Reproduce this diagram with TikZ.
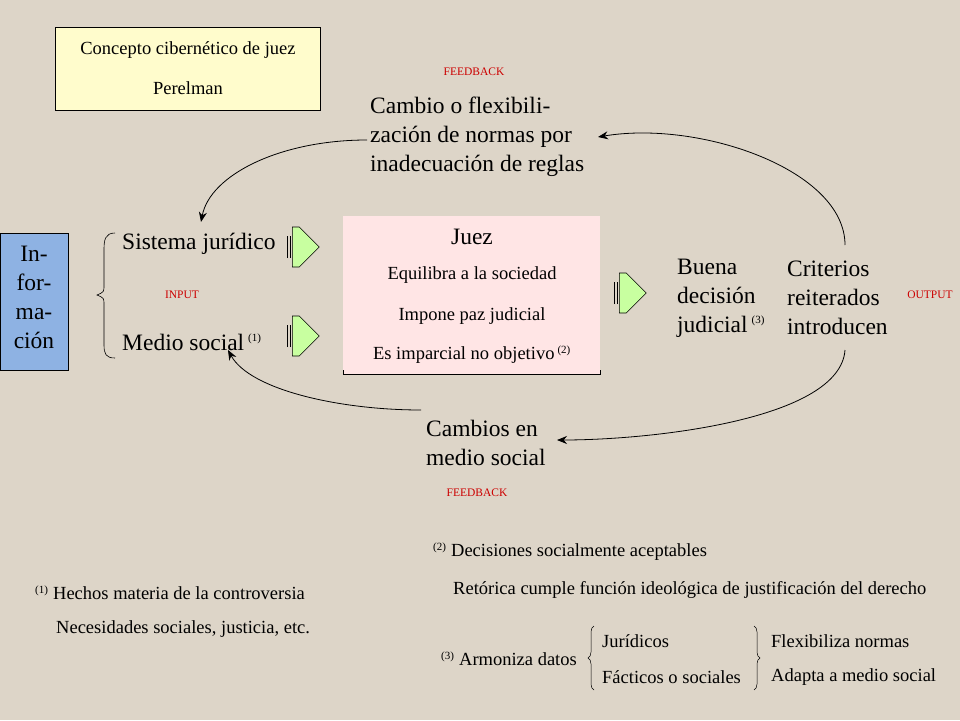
\documentclass[tikz,border=0pt]{standalone}
\usepackage{fontspec}
\setmainfont{Liberation Serif}
\usetikzlibrary{shapes.arrows,decorations.pathreplacing,arrows.meta}
\definecolor{bg}{HTML}{DDD5C8}
\definecolor{ag}{HTML}{C8FFA0}
\tikzset{
 big/.style={font=\fontsize{23.5}{29}\selectfont,align=left,inner sep=0pt},
 mid/.style={font=\fontsize{18.5}{22}\selectfont,inner sep=0pt},
 tiny/.style={font=\fontsize{11.5}{13}\selectfont,text=red!80!black,inner sep=0pt},
 garrow/.style={single arrow,draw=black,fill=ag,minimum height=27pt,minimum width=40pt,single arrow head extend=0pt,single arrow head indent=0pt,inner sep=0pt,line width=0.6pt,shape border rotate=0},
 curv/.style={-{Stealth[length=10pt,width=8pt]},line width=0.8pt},
}
\newcommand{\garr}[2]{%
 \node[garrow,anchor=west] (#1) at #2 {};
 \draw[line width=1pt] ([xshift=-5pt,yshift=-11pt]#1.west) -- ([xshift=-5pt,yshift=11pt]#1.west);
 \draw[line width=1pt] ([xshift=-2pt,yshift=-11pt]#1.west) -- ([xshift=-2pt,yshift=11pt]#1.west);}
\begin{document}
\begin{tikzpicture}[x=1pt,y=-1pt]
\fill[bg] (0,0) rectangle (960,720);
\useasboundingbox (0,0) rectangle (960,720);
\node[draw,fill=yellow!20,minimum width=265pt,minimum height=83pt,anchor=north west,inner sep=0pt] (tit) at (55,27) {};
\node[mid] (t1) at (188,50) {Concepto cibernético de juez};
\node[mid] (t2) at (188,88) {Perelman};
\node[tiny] (fb1) at (474,72) {FEEDBACK};
\node[big,anchor=west] (cambio) at (370,137) {Cambio o flexibili-\\zación de normas por\\inadecuación de reglas};
\node[draw,fill=cyan!55!blue!45,minimum width=68pt,minimum height=137pt,anchor=north west,inner sep=0pt] (info) at (0,233) {};
\node[big,align=center] (infot) at (34,297) {In-\\for-\\ma-\\ción};
\node[big,anchor=west] (sis) at (122,244) {Sistema jurídico};
\node[big,anchor=west] (med) at (122,342) {Medio social\,\textsuperscript{\fontsize{11}{11}\selectfont(1)}};
\node[tiny] (inp) at (182,295) {INPUT};
\draw[line width=0.6pt] (115,233) .. controls (105,233) and (104,240) .. (104,250) -- (104,285) .. controls (104,292) .. (97,295) .. controls (104,298) .. (104,305) -- (104,345) .. controls (104,354) and (106,358) .. (115,358);
\garr{a1}{(292,247)}
\garr{a2}{(292,336)}
\node[fill=red!10,minimum width=257pt,minimum height=158pt,anchor=north west,inner sep=0pt] (juez) at (343,216) {};
\draw[line width=0.6pt] (juez.south west)++(0,-4) -- (juez.south west) -- (juez.south east) -- ++(0,-4);
\node[big] (j1) at (472,237) {Juez};
\node[mid] (j2) at (472,275) {Equilibra a la sociedad};
\node[mid] (j3) at (472,316) {Impone paz judicial};
\node[mid] (j4) at (472,355) {Es imparcial no objetivo\,\textsuperscript{\fontsize{11}{11}\selectfont(2)}};
\garr{a3}{(619,293)}
\node[big,anchor=west] (buena) at (677,298) {Buena\\decisión\\judicial\,\textsuperscript{\fontsize{11}{11}\selectfont(3)}};
\node[big,anchor=west] (crit) at (787,298) {Criterios\\reiterados\\introducen};
\node[tiny] (out) at (930,295) {OUTPUT};
\node[big,anchor=west] (camb2) at (426,443) {Cambios en\\medio social};
\node[tiny] (fb2) at (477,493) {FEEDBACK};
\draw[curv] (367,140) .. controls (280,140) and (210,175) .. (201,222);
\draw[curv] (845,245) .. controls (845,170) and (700,120) .. (598,137);
\draw[curv] (845,350) .. controls (840,420) and (650,440) .. (557,440);
\draw[curv] (421,410) .. controls (340,410) and (250,390) .. (228,350);
\node[mid,anchor=west] (n2a) at (433,552) {\textsuperscript{\fontsize{11}{11}\selectfont(2)} Decisiones socialmente aceptables};
\node[mid,anchor=west] (n2b) at (453,590) {Retórica cumple función ideológica de justificación del derecho};
\node[mid,anchor=west] (n1a) at (35,593) {\textsuperscript{\fontsize{11}{11}\selectfont(1)} Hechos materia de la controversia};
\node[mid,anchor=west] (n1b) at (56,629) {Necesidades sociales, justicia, etc.};
\node[mid,anchor=west] (n3) at (441,659) {\textsuperscript{\fontsize{11}{11}\selectfont(3)} Armoniza datos};
\node[mid,anchor=west] (jur) at (602,641) {Jurídicos};
\node[mid,anchor=west] (fac) at (602,677) {Fácticos o sociales};
\node[mid,anchor=west] (flex) at (771,641) {Flexibiliza normas};
\node[mid,anchor=west] (adap) at (771,677) {Adapta a medio social};
\draw[decorate,decoration={brace,amplitude=6pt,mirror},line width=0.5pt] (594,626) -- (594,690);
\draw[decorate,decoration={brace,amplitude=6pt},line width=0.5pt] (754,626) -- (754,690);
\end{tikzpicture}
\end{document}
